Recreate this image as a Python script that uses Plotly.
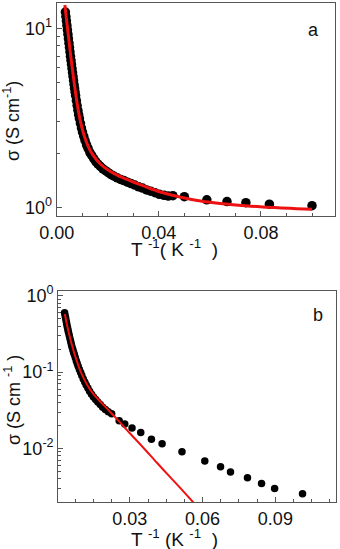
import plotly.graph_objects as go

# ---- panel a : sigma vs 1/T ----
a_data_x = [0.0034, 0.0036, 0.0038, 0.0040, 0.0042, 0.0044, 0.0046, 0.0048, 0.0050, 0.0052,
            0.0054, 0.0056, 0.0058, 0.0060, 0.0062, 0.0064, 0.0066, 0.0068, 0.0070, 0.0072,
            0.0074, 0.0077, 0.0080, 0.0083, 0.0086, 0.0089, 0.0093, 0.0097, 0.0101, 0.0106,
            0.0111, 0.0117, 0.0123, 0.0130, 0.0137, 0.0145, 0.0153, 0.0162, 0.0171, 0.0181,
            0.0191, 0.0202, 0.0213, 0.0225, 0.0237, 0.0250, 0.0263, 0.0277, 0.0291, 0.0306,
            0.0321, 0.0336, 0.0352, 0.0368, 0.0385, 0.0402, 0.0420, 0.0437,
            0.0455, 0.0500, 0.0588, 0.0667, 0.0741, 0.0833, 0.1000]
a_data_y = [12.33, 11.64, 10.99, 10.38, 9.79, 9.25, 8.75, 8.26, 7.82, 7.38,
            6.97, 6.61, 6.28, 5.96, 5.66, 5.38, 5.11, 4.85, 4.63, 4.41,
            4.21, 3.94, 3.70, 3.48, 3.29, 3.13, 2.94, 2.77, 2.63, 2.49,
            2.36, 2.23, 2.13, 2.02, 1.95, 1.87, 1.80, 1.74, 1.69, 1.64,
            1.60, 1.56, 1.52, 1.49, 1.46, 1.43, 1.41, 1.38, 1.355, 1.33,
            1.30, 1.28, 1.25, 1.23, 1.205, 1.18, 1.165, 1.155,
            1.16, 1.146, 1.10, 1.075, 1.06, 1.04, 1.02]

a_fit_x = [0.0032, 0.0036, 0.0040, 0.0045, 0.0050, 0.0055, 0.0060, 0.0067, 0.0075, 0.0085,
           0.0098, 0.0113, 0.0130, 0.0150, 0.0170, 0.0200, 0.0235, 0.0270, 0.0300, 0.0350,
           0.0400, 0.0450, 0.0500, 0.0550, 0.0600, 0.0650, 0.0700, 0.0760, 0.0820, 0.0880,
           0.0940, 0.1000]
a_fit_y = [13.5, 12.0, 10.7, 9.29, 8.07, 7.0, 6.16, 5.14, 4.24, 3.45,
           2.81, 2.38, 2.09, 1.89, 1.75, 1.62, 1.515, 1.44, 1.384, 1.30,
           1.225, 1.171, 1.127, 1.091, 1.066, 1.046, 1.030, 1.014, 1.001, 0.991,
           0.982, 0.975]

# ---- panel b ----
b_data_x = [0.0031, 0.0033, 0.0035, 0.0037, 0.0039, 0.0041, 0.0043, 0.0045, 0.0047, 0.0050,
            0.0053, 0.0056, 0.0059, 0.0062, 0.0065, 0.0068, 0.0071, 0.0075, 0.0079, 0.0083,
            0.0087, 0.0092, 0.0097, 0.0102, 0.0108, 0.0114, 0.0120, 0.0127, 0.0134, 0.0142,
            0.0150, 0.0159, 0.0168, 0.0178, 0.0188, 0.0199, 0.0211, 0.0225, 0.0256, 0.0279,
            0.0309, 0.0345, 0.0389, 0.0433, 0.0515, 0.0609, 0.0674, 0.0715, 0.0785, 0.0843,
            0.0897, 0.1012]
b_data_y = [0.596, 0.550, 0.513, 0.473, 0.437, 0.407, 0.380, 0.355, 0.331, 0.302,
            0.275, 0.251, 0.229, 0.211, 0.195, 0.182, 0.170, 0.155, 0.141, 0.129,
            0.119, 0.108, 0.0989, 0.0902, 0.0813, 0.0741, 0.0676, 0.0617, 0.0562, 0.0513,
            0.0473, 0.0437, 0.0407, 0.0376, 0.0347, 0.0324, 0.0302, 0.0284, 0.0231, 0.0209,
            0.0185, 0.0162, 0.0132, 0.01156, 0.00904, 0.00686, 0.00575, 0.00493, 0.00414, 0.00349,
            0.00299, 0.00256]

b_fit_x = [0.0032, 0.0040, 0.0050, 0.0060, 0.0070, 0.0080, 0.0090, 0.0100, 0.0115, 0.0130,
           0.0150, 0.0170, 0.0200, 0.0250, 0.0300, 0.0350, 0.0400, 0.0450, 0.0500, 0.0580]
b_fit_y = [0.575, 0.427, 0.309, 0.232, 0.180, 0.143, 0.116, 0.0966, 0.0767, 0.0631,
           0.0513, 0.0437, 0.0347, 0.0237, 0.0158, 0.0107, 0.00716, 0.00479, 0.00324, 0.00170]

a_yticks = [1, 10]
a_yticktext = ["10<sup>0</sup>", "10<sup>1</sup>"]
b_yticks = [0.01, 0.1, 1]
b_yticktext = ["10<sup>-2</sup>", "10<sup>-1</sup>", "10<sup>0</sup>"]

W, H = 340, 549
FONT = "Liberation Sans, Arial, sans-serif"
AX = "#555555"
TXT = "#111111"
NB = "\u00a0"

fig = go.Figure()
fig.add_trace(go.Scatter(x=a_data_x, y=a_data_y, mode="markers",
                         marker=dict(size=9.5, color="black"), xaxis="x", yaxis="y"))
fig.add_trace(go.Scatter(x=a_fit_x, y=a_fit_y, mode="lines",
                         line=dict(color="#ee1111", width=3, shape="spline"), xaxis="x", yaxis="y"))
fig.add_trace(go.Scatter(x=b_data_x, y=b_data_y, mode="markers",
                         marker=dict(size=7.5, color="black"), xaxis="x2", yaxis="y2"))
fig.add_trace(go.Scatter(x=b_fit_x, y=b_fit_y, mode="lines",
                         line=dict(color="#ee1111", width=2, shape="spline"), xaxis="x2", yaxis="y2"))

common = dict(showline=True, linecolor=AX, linewidth=1.2, mirror=True, ticks="inside",
              tickcolor=AX, showgrid=False, zeroline=False, automargin=False,
              tickfont=dict(family=FONT, size=18, color=TXT))


def label(text, x, y, angle=0, size=18):
    # axis titles and panel letters placed in page pixels
    return dict(text=text, x=x / W, y=1 - y / H, xref="paper", yref="paper",
                showarrow=False, textangle=angle, xanchor="center", yanchor="middle",
                font=dict(family=FONT, size=size, color=TXT))


fig.update_layout(
    width=W, height=H, showlegend=False,
    margin=dict(l=0, r=0, t=0, b=0),
    plot_bgcolor="white", paper_bgcolor="white",
    font=dict(family=FONT, color=TXT),
    xaxis=dict(domain=[56.7 / W, 335 / W], anchor="y", range=[0, 0.109],
               tick0=0, dtick=0.04, tickformat=".2f", ticklen=5,
               minor=dict(dtick=0.01, ticks="inside", ticklen=3, tickcolor=AX),
               **common),
    yaxis=dict(domain=[1 - 216 / H, 1 - 2.7 / H], anchor="x", type="log",
               range=[-0.049, 1.143], tickvals=a_yticks, ticktext=a_yticktext, ticklen=5,
               minor=dict(dtick="D1", ticks="inside", ticklen=3, tickcolor=AX),
               **common),
    xaxis2=dict(domain=[58.3 / W, 336 / W], anchor="y2", range=[0.0005, 0.115],
                tick0=0, dtick=0.03, tickformat=".2f", ticklen=5,
                minor=dict(dtick=0.0075, ticks="inside", ticklen=3, tickcolor=AX),
                **common),
    yaxis2=dict(domain=[1 - 502 / H, 1 - 291 / H], anchor="x2", type="log",
                range=[-2.70, 0.06], tickvals=b_yticks, ticktext=b_yticktext, ticklen=5,
                minor=dict(dtick="D1", ticks="inside", ticklen=3, tickcolor=AX),
                **common),
    annotations=[
        label(f"T{NB}<sup>-1</sup>({NB}K{NB}<sup>-1</sup>{NB}{NB})", 174, 248, size=19),
        label("σ (S cm<sup>-1</sup>)", 12, 121, angle=-90),
        label(f"T{NB}<sup>-1</sup>{NB}(K{NB}<sup>-1</sup>{NB}{NB})", 175, 538, size=19),
        label("σ (S cm <sup>-1</sup> )", 12, 400, angle=-90),
        label("a", 313, 30),
        label("b", 318, 315),
    ],
)

fig.write_html("out.html", config={"displayModeBar": False},
               post_script="document.body.style.margin='0';")
